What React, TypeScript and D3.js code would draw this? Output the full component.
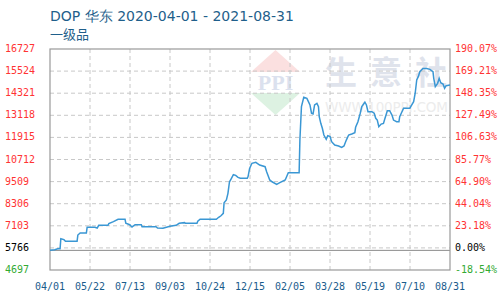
import React from "react";
import * as d3 from "d3";

const dates: string[] = [
  "2020-04-01","2020-04-07","2020-04-11","2020-04-14","2020-04-15","2020-04-19","2020-04-21","2020-05-06","2020-05-07","2020-05-10",
  "2020-05-18","2020-05-19","2020-05-29","2020-06-01","2020-06-03","2020-06-15","2020-06-16","2020-06-22","2020-06-28","2020-07-07",
  "2020-07-08","2020-07-13","2020-07-16","2020-07-20","2020-07-28","2020-07-29","2020-08-16","2020-08-18","2020-08-25","2020-09-03",
  "2020-09-11","2020-09-15","2020-09-22","2020-09-23","2020-10-08","2020-10-09","2020-10-12","2020-11-02","2020-11-05","2020-11-08",
  "2020-11-11","2020-11-12","2020-11-15","2020-11-17","2020-11-19","2020-11-21","2020-11-24","2020-11-27","2020-11-30","2020-12-03",
  "2020-12-12","2020-12-13","2020-12-15","2020-12-18","2020-12-23","2020-12-28","2021-01-04","2021-01-06","2021-01-10","2021-01-13",
  "2021-01-19","2021-01-23","2021-01-30","2021-02-03","2021-02-17","2021-02-18","2021-02-20","2021-02-23","2021-02-27","2021-03-01",
  "2021-03-03","2021-03-05","2021-03-07","2021-03-09","2021-03-12","2021-03-14","2021-03-15","2021-03-17","2021-03-19","2021-03-21",
  "2021-03-24","2021-03-26","2021-03-29","2021-03-31","2021-04-04","2021-04-09","2021-04-13","2021-04-16","2021-04-19","2021-04-22",
  "2021-04-26","2021-04-30","2021-05-01","2021-05-04","2021-05-07","2021-05-09","2021-05-13","2021-05-15","2021-05-17","2021-05-22",
  "2021-05-25","2021-05-27","2021-05-29","2021-05-31","2021-06-03","2021-06-06","2021-06-08","2021-06-11","2021-06-14","2021-06-17",
  "2021-06-19","2021-06-23","2021-06-26","2021-06-27","2021-07-02","2021-07-10","2021-07-15","2021-07-17","2021-07-19","2021-07-21",
  "2021-07-23","2021-07-27","2021-08-01","2021-08-05","2021-08-09","2021-08-10","2021-08-12","2021-08-15","2021-08-17","2021-08-19",
  "2021-08-22","2021-08-24","2021-08-26","2021-08-31"
];

const prices: number[] = [
  5766,5800,5850,5850,6400,6350,6260,6260,6600,6710,
  6710,7020,7020,6980,7130,7130,7220,7330,7460,7460,
  7240,7160,7040,7160,7160,7050,7050,6980,6970,7076,
  7130,7240,7275,7240,7240,7350,7460,7460,7566,7650,
  7780,8360,8510,8870,9500,9650,9885,9850,9740,9690,
  9690,9780,10230,10505,10560,10410,10320,10050,9600,9500,
  9360,9450,9600,9990,9990,11770,13590,14100,14040,13860,
  13680,13230,13190,13680,13770,13590,13040,12680,12410,12045,
  11810,12010,11955,11680,11500,11450,11375,11450,11770,12045,
  12100,12170,12465,12770,13230,13590,13830,13680,13315,13315,
  13230,12955,12860,12500,12640,12680,12955,13370,13370,13130,
  12860,12770,12770,13040,13500,13500,13860,14320,15040,15220,
  15490,15670,15670,15620,15490,15130,14675,14860,15130,14890,
  14820,14585,14730,14766
];

const leftTicks: number[] = [4697, 5766, 7103, 8306, 9509, 10712, 11915, 13118, 14321, 15524, 16727];
const rightTicks: string[] = ["-18.54%", "0.00%", "23.18%", "44.04%", "64.90%", "85.77%", "106.63%", "127.49%", "148.35%", "169.21%", "190.07%"];
const xTickLabels: string[] = ["04/01", "05/22", "07/13", "09/03", "10/24", "12/15", "02/05", "03/28", "05/19", "07/10", "08/31"];
const watermarkChars: string[] = ["生", "意", "社"];

const basePrice = 5766;
const yMin = 4697;
const yMax = 16727;
const startDate = "2020-04-01";
const endDate = "2021-08-31";

export default function App() {
  const W = 500, H = 300;
  const L = 50, R = 450, T = 49, B = 270;
  const parse = d3.utcParse("%Y-%m-%d");
  const x = d3.scaleUtc().domain([parse(startDate)!, parse(endDate)!]).range([L, R]);
  const y = d3.scaleLinear().domain([yMin, yMax]).range([B, T]);
  const gridY = d3.range(0, 11).map(i => T + (B - T) * i / 10);
  const gridX = d3.range(0, 11).map(i => L + (R - L) * i / 10);
  const data = dates.map((d, i) => [parse(d)!, prices[i]] as [Date, number]);
  const line = d3.line<[Date, number]>().x(d => x(d[0])).y(d => y(d[1]));
  const mono = "'DejaVu Sans Mono', monospace";
  const colorFor = (i: number) => (i === 0 ? "#33aa33" : i === 1 ? "#000" : "#ff3333");

  return (
    <svg width={W} height={H} style={{ position: "absolute", left: 0, top: 0, background: "#fff" }}>
      <rect x={0} y={0} width={W} height={H} fill="#fff" />
      <text x={50} y={21} fontFamily="'DejaVu Sans', sans-serif" fontSize={14} fill="#1f5f8b">DOP 华东 2020-04-01 - 2021-08-31</text>
      <text x={50} y={39} fontFamily="'Noto Sans CJK SC', sans-serif" fontSize={13} fill="#1f5f8b">一级品</text>

      {/* watermark */}
      <g>
        <polygon points="251,72 275.5,50 300,72" fill="#fbe0e0" />
        <polygon points="251,93 275.5,115 300,93" fill="#ddf2e2" />
        <text x={275.5} y={90} textAnchor="middle" fontFamily="'Liberation Serif', serif" fontWeight="bold" fontSize={22} fill="#dbe1ee">PPI</text>
        {watermarkChars.map((c, i) => (
          <text key={"wm" + i} x={325 + i * 45} y={84} fontFamily="'Noto Sans CJK SC', sans-serif" fontWeight="bold" fontSize={32} fill="#dfe3ec">{c}</text>
        ))}
        <text x={325} y={112} fontFamily="'DejaVu Sans', sans-serif" fontSize={13.5} textLength={123} fill="#ececec">WWW.100PPI.COM</text>
      </g>

      {gridY.slice(1, 10).map((gy, i) => (
        <line key={"gy" + i} x1={L} x2={R} y1={gy} y2={gy} stroke="#c8c8c8" strokeDasharray="4,3" />
      ))}
      {gridX.slice(1, 10).map((gx, i) => (
        <line key={"gx" + i} x1={gx} x2={gx} y1={T} y2={B} stroke="#c8c8c8" strokeDasharray="4,3" />
      ))}
      <line x1={L} x2={R} y1={y(basePrice)} y2={y(basePrice)} stroke="#8a8a8a" strokeWidth={1} />
      <rect x={L} y={T} width={R - L} height={B - T} fill="none" stroke="#999" strokeWidth={1.2} />

      <path d={line(data) || ""} fill="none" stroke="#3a97d4" strokeWidth={1.5} />

      {leftTicks.map((v, i) => (
        <text key={"lt" + i} x={5} y={gridY[10 - i]} dominantBaseline="middle" fontFamily={mono} fontSize={10} fill={colorFor(i)}>{v}</text>
      ))}
      {rightTicks.map((v, i) => (
        <text key={"rt" + i} x={455} y={gridY[10 - i]} dominantBaseline="middle" fontFamily={mono} fontSize={10} fill={colorFor(i)}>{v}</text>
      ))}
      {xTickLabels.map((v, i) => (
        <text key={"xt" + i} x={gridX[i]} y={287} textAnchor="middle" dominantBaseline="middle" fontFamily={mono} fontSize={10} fill="#1a5c8c">{v}</text>
      ))}
    </svg>
  );
}
